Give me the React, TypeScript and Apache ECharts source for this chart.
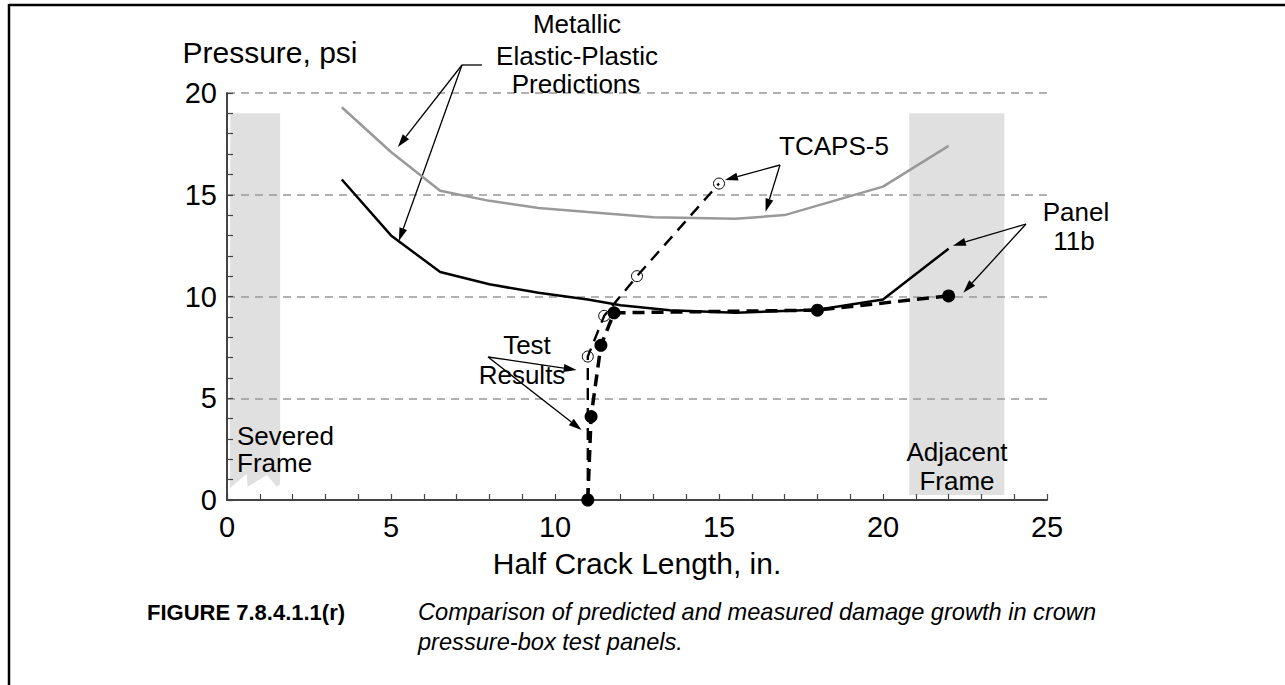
import React, { useEffect, useRef } from "react";
import * as echarts from "echarts";

// ---- data (x = half crack length, in.; y = pressure, psi) ----
const grayPredX = [3.5, 5, 6.5, 8, 9.5, 11, 13, 15.5, 17, 20, 22];
const grayPredY = [19.3, 17.1, 15.2, 14.7, 14.35, 14.15, 13.9, 13.82, 14.0, 15.4, 17.4];

const blackPredX = [3.5, 5, 6.5, 8, 9.5, 11, 12, 13.5, 15.5, 18, 20, 22];
const blackPredY = [15.75, 13.0, 11.2, 10.6, 10.18, 9.85, 9.57, 9.32, 9.2, 9.35, 9.85, 12.35];

const testX = [11, 11.1, 11.4, 11.8, 18, 22];
const testY = [0, 4.1, 7.6, 9.2, 9.33, 10.03];

const tcapsX = [11, 11, 11.5, 12.5, 15];
const tcapsY = [0, 7.05, 9.05, 11.0, 15.55];

// shaded frame regions (data coords)
const severedFrame = [
  [0.1, 19], [1.62, 19], [1.62, 0.79], [1.52, 0.65], [1.22, 1.23],
  [0.63, 0.65], [0.6, 1.28], [0.09, 0.59],
];
const adjacentFrame = [[20.8, 19], [23.7, 19], [23.7, 0.25], [20.8, 0.25]];

const zip = (xs: number[], ys: number[]) => xs.map((x, i) => [x, ys[i]]);

const FONT = '"Liberation Sans", Arial, Helvetica, sans-serif';

export default function App() {
  const ref = useRef<HTMLDivElement>(null);

  useEffect(() => {
    const chart = echarts.init(ref.current!, null, { renderer: "svg" });
    const polys = [severedFrame, adjacentFrame];

    const option: any = {
      animation: false,
      backgroundColor: "#fff",
      grid: { left: 227, right: 238, top: 93, bottom: 185, containLabel: false },
      xAxis: {
        type: "value",
        min: 0,
        max: 25,
        interval: 5,
        name: "Half Crack Length, in.",
        nameLocation: "middle",
        nameGap: 48,
        nameTextStyle: { fontFamily: FONT, fontSize: 30, color: "#000" },
        axisLine: { show: true, onZero: false, lineStyle: { color: "#444", width: 2 } },
        axisTick: { show: true, inside: true, length: 6, lineStyle: { color: "#444", width: 1.2 } },
        minorTick: { show: true, splitNumber: 5, length: 6, lineStyle: { color: "#444", width: 1.2 } },
        axisLabel: { fontFamily: FONT, fontSize: 29, color: "#000", margin: 12 },
        splitLine: { show: false },
      },
      yAxis: {
        type: "value",
        min: 0,
        max: 20,
        interval: 5,
        name: "Pressure, psi",
        nameLocation: "end",
        nameGap: 26,
        nameTextStyle: { fontFamily: FONT, fontSize: 30, color: "#000", padding: [0, 0, 0, 86] },
        axisLine: { show: true, onZero: false, lineStyle: { color: "#444", width: 2 } },
        axisTick: { show: true, inside: true, length: 6, lineStyle: { color: "#444", width: 1.2 } },
        minorTick: { show: true, splitNumber: 5, length: 6, lineStyle: { color: "#444", width: 1.2 } },
        axisLabel: { fontFamily: FONT, fontSize: 29, color: "#000", margin: 10 },
        splitLine: { show: true, lineStyle: { color: "#999", width: 1.5, type: [8, 6] } },
      },
      series: [
        {
          type: "custom",
          name: "Frames",
          z: -1,
          silent: true,
          data: [[0, 0], [0, 0]],
          renderItem: (params: any, api: any) => ({
            type: "polygon",
            shape: { points: polys[params.dataIndex].map((p) => api.coord(p)) },
            style: { fill: "#e0e0e0" },
          }),
        },
        {
          type: "line",
          name: "Metallic prediction (gray)",
          data: zip(grayPredX, grayPredY),
          showSymbol: false,
          lineStyle: { color: "#999", width: 2.5 },
          z: 3,
        },
        {
          type: "line",
          name: "Metallic prediction (black)",
          data: zip(blackPredX, blackPredY),
          showSymbol: false,
          lineStyle: { color: "#000", width: 2.5 },
          z: 3,
        },
        {
          type: "line",
          name: "TCAPS-5",
          data: zip(tcapsX, tcapsY),
          symbol: "circle",
          symbolSize: 11,
          itemStyle: { color: "none", borderColor: "#000", borderWidth: 1 },
          lineStyle: { color: "#000", width: 2.4, type: [12, 8] },
          z: 4,
        },
        {
          type: "line",
          name: "Test Results",
          data: zip(testX, testY),
          symbol: "circle",
          symbolSize: 13,
          itemStyle: { color: "#000" },
          lineStyle: { color: "#000", width: 3.5, type: [12, 7] },
          z: 5,
        },
      ],
    };
    chart.setOption(option);

    const toPx = (p: number[]) => chart.convertToPixel({ gridIndex: 0 }, p) as number[];

    const arrow = (from: number[], tip: number[]) => {
      const dx = tip[0] - from[0];
      const dy = tip[1] - from[1];
      const len = Math.hypot(dx, dy);
      const ux = dx / len;
      const uy = dy / len;
      const hl = 13;
      const hw = 4;
      const bx = tip[0] - ux * hl;
      const by = tip[1] - uy * hl;
      return [
        {
          type: "line",
          silent: true,
          shape: { x1: from[0], y1: from[1], x2: bx, y2: by },
          style: { stroke: "#000", lineWidth: 1.3 },
        },
        {
          type: "polygon",
          silent: true,
          shape: { points: [tip, [bx - uy * hw, by + ux * hw], [bx + uy * hw, by - ux * hw]] },
          style: { fill: "#000" },
        },
      ];
    };

    const text = (t: string, x: number, y: number, size = 26, align = "center", weight = "normal", style = "normal") => ({
      type: "text",
      x,
      y,
      silent: true,
      style: {
        text: t,
        fill: "#000",
        font: `${style} ${weight} ${size}px ${FONT}`,
        align,
        verticalAlign: "middle",
        textAlign: align,
        textVerticalAlign: "middle",
      },
    });

    const metallicFrom = [462, 65];
    const tcapsFrom = [780, 165];
    const panelFrom = [1026, 224];
    const testFrom = [488, 357];

    const graphic: any[] = [
      // page border
      { type: "line", silent: true, shape: { x1: 9, y1: 5, x2: 1285, y2: 5 }, style: { stroke: "#000", lineWidth: 2.5 } },
      { type: "line", silent: true, shape: { x1: 9, y1: 4, x2: 9, y2: 685 }, style: { stroke: "#000", lineWidth: 2.5 } },

      text("Metallic", 577, 24),
      text("Elastic-Plastic", 577, 56),
      text("Predictions", 576, 84),
      { type: "line", silent: true, shape: { x1: 462, y1: 65, x2: 482, y2: 65 }, style: { stroke: "#000", lineWidth: 1.3 } },
      ...arrow(metallicFrom, toPx([5.21, 17.35])),
      ...arrow(metallicFrom, toPx([5.24, 12.73])),

      text("TCAPS-5", 834, 146),
      ...arrow(tcapsFrom, toPx([15.18, 15.72])),
      ...arrow(tcapsFrom, toPx([16.42, 14.17])),

      text("Panel", 1076, 212),
      text("11b", 1074, 241),
      ...arrow(panelFrom, toPx([22.13, 12.5])),
      ...arrow(panelFrom, toPx([22.45, 10.19])),

      text("Test", 527, 345),
      text("Results", 522, 375),
      ...arrow(testFrom, toPx([10.66, 6.39])),
      ...arrow(testFrom, toPx([10.81, 3.44])),

      text("Severed", 237, 436, 26, "left"),
      text("Frame", 237, 463, 26, "left"),
      text("Adjacent", 957, 452),
      text("Frame", 957, 481),

      text("FIGURE 7.8.4.1.1(r)", 147, 612, 22, "left", "bold"),
      text("Comparison of predicted and measured damage growth in crown", 418, 612, 23.6, "left", "normal", "italic"),
      text("pressure-box test panels.", 418, 642, 23.6, "left", "normal", "italic"),
    ];

    chart.setOption({ graphic });

    return () => chart.dispose();
  }, []);

  return (
    <div
      ref={ref}
      style={{ position: "fixed", left: 0, top: 0, width: 1285, height: 685, background: "#fff" }}
    />
  );
}
